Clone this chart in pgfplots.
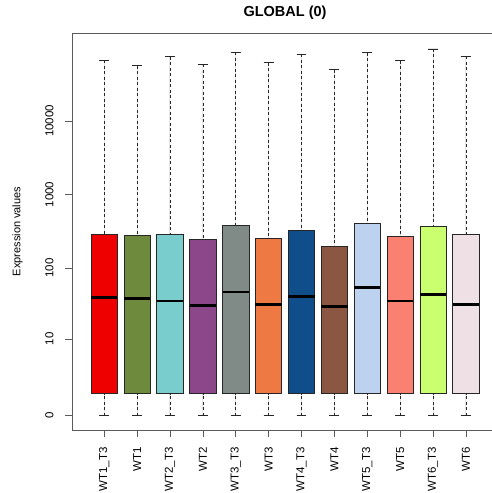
\documentclass[border=0pt]{standalone}
\usepackage{pgfplots}
\pgfplotsset{compat=1.18}
\usepgfplotslibrary{statistics}
\usepackage{fontspec}
\setmainfont{Liberation Sans}
\definecolor{c1}{RGB}{238,0,0}
\definecolor{c2}{RGB}{110,139,61}
\definecolor{c3}{RGB}{121,205,205}
\definecolor{c4}{RGB}{139,71,137}
\definecolor{c5}{RGB}{128,138,135}
\definecolor{c6}{RGB}{238,121,66}
\definecolor{c7}{RGB}{16,78,139}
\definecolor{c8}{RGB}{139,87,66}
\definecolor{c9}{RGB}{188,210,238}
\definecolor{c10}{RGB}{250,128,114}
\definecolor{c11}{RGB}{202,255,112}
\definecolor{c12}{RGB}{238,224,229}
\definecolor{axgray}{RGB}{90,90,90}
% values are log10(expression+1): position, lower whisker, Q1, median, Q3, upper whisker
\newcommand{\bx}[7]{%
  \addplot[fill=#7, draw=black!85, line width=0.7pt,
    boxplot prepared={draw position=#1, lower whisker=#2, lower quartile=#3,
      median=#4, upper quartile=#5, upper whisker=#6,
      box extend=0.8, whisker extend=0.3}] coordinates {};}
\begin{document}
\begin{tikzpicture}
\begin{axis}[
  at={(72pt,63pt)}, anchor=south west,
  scale only axis, width=420pt, height=397pt,
  xmin=0.02, xmax=12.794, ymin=-0.194, ymax=5.193,
  axis lines*=left,
  xtick={1,2,3,4,5,6,7,8,9,10,11,12},
  xticklabels={WT1\_T3,WT1,WT2\_T3,WT2,WT3\_T3,WT3,WT4\_T3,WT4,WT5\_T3,WT5,WT6\_T3,WT6},
  ytick={0,1.0414,2.0043,3.0004,4.0000},
  yticklabels={0,10,100,1000,10000},
  tick align=outside, major tick length=7pt,
  tick style={axgray, line width=0.7pt},
  axis line style={axgray, line width=0.7pt},
  /pgf/number format/assume math mode=true,
  x tick label style={yshift=-7pt, rotate=90, anchor=east, font=\fontsize{11.5}{13}\selectfont},
  y tick label style={xshift=-8pt, rotate=90, anchor=south, font=\fontsize{11.5}{13}\selectfont},
  every axis y label/.style={at={(rel axis cs:0,0.5)}, xshift=-54.5pt, rotate=90, anchor=center, font=\fontsize{11}{13}\selectfont},
  ylabel={Expression values},
  title={GLOBAL (0)},
  title style={font=\fontsize{14.5}{17}\selectfont\bfseries, at={(0.5,1)}, anchor=center, yshift=14pt, xshift=3pt},
  boxplot/draw direction=y,
  boxplot/every median/.style={black, line width=2.6pt},
  boxplot/every whisker/.style={black!85, line width=0.7pt},
  boxplot/draw/lower whisker/.code={%
    \draw[/pgfplots/boxplot/every whisker/.try, dash pattern=on 3pt off 2.5pt]
      (boxplot box cs:\pgfplotsboxplotvalue{lower whisker},0.5) --
      (boxplot box cs:\pgfplotsboxplotvalue{lower quartile},0.5);
    \draw[/pgfplots/boxplot/every whisker/.try]
      (boxplot whisker cs:\pgfplotsboxplotvalue{lower whisker},0) --
      (boxplot whisker cs:\pgfplotsboxplotvalue{lower whisker},1);
  },
  boxplot/draw/upper whisker/.code={%
    \draw[/pgfplots/boxplot/every whisker/.try, dash pattern=on 3pt off 2.5pt]
      (boxplot box cs:\pgfplotsboxplotvalue{upper whisker},0.5) --
      (boxplot box cs:\pgfplotsboxplotvalue{upper quartile},0.5);
    \draw[/pgfplots/boxplot/every whisker/.try]
      (boxplot whisker cs:\pgfplotsboxplotvalue{upper whisker},0) --
      (boxplot whisker cs:\pgfplotsboxplotvalue{upper whisker},1);
  },
]
\bx{1}{0}{0.301}{1.607}{2.461}{4.826}{c1}
\bx{2}{0}{0.301}{1.593}{2.448}{4.749}{c2}
\bx{3}{0}{0.301}{1.556}{2.456}{4.871}{c3}
\bx{4}{0}{0.301}{1.493}{2.398}{4.768}{c4}
\bx{5}{0}{0.301}{1.678}{2.583}{4.935}{c5}
\bx{6}{0}{0.301}{1.512}{2.411}{4.790}{c6}
\bx{7}{0}{0.301}{1.615}{2.516}{4.904}{c7}
\bx{8}{0}{0.301}{1.479}{2.303}{4.695}{c8}
\bx{9}{0}{0.301}{1.737}{2.611}{4.925}{c9}
\bx{10}{0}{0.301}{1.556}{2.434}{4.817}{c10}
\bx{11}{0}{0.301}{1.647}{2.574}{4.976}{c11}
\bx{12}{0}{0.301}{1.506}{2.456}{4.877}{c12}
\draw[axgray, line width=0.7pt] (rel axis cs:0,1) -- (rel axis cs:1,1);
\end{axis}
\pgfresetboundingbox
\path[use as bounding box] (0,0) rectangle (492pt,493pt);
\end{tikzpicture}
\end{document}
